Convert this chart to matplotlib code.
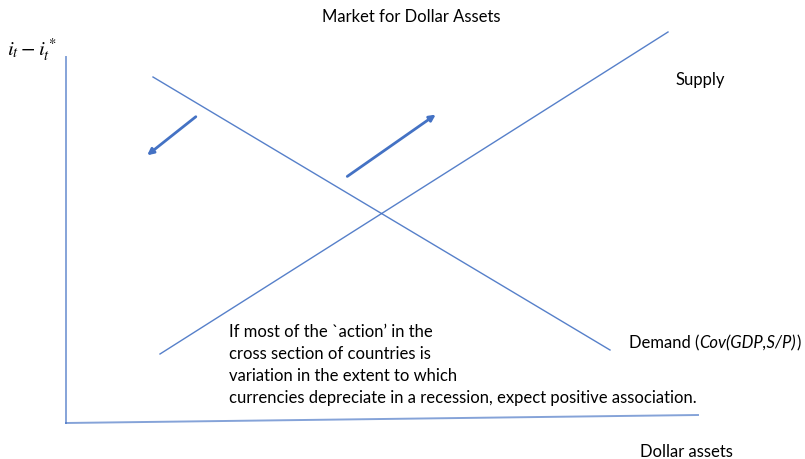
import matplotlib.pyplot as plt
from matplotlib.patches import FancyArrowPatch

# picture coordinates (pixels, y down)
axis_y = [(66, 58), (66, 424)]
axis_x = [(66, 424), (698, 416)]
demand = [(153, 78), (610, 351)]
supply = [(160, 355), (668, 33)]
arrow_left = [(198, 116), (145, 158)]
arrow_right = [(345, 179), (438, 114)]

note_lines = [
    "If most of the `action\u2019 in the",
    "cross section of countries is",
    "variation in the extent to which",
    "currencies depreciate in a recession, expect positive association.",
]

blue = "#4472C4"
plt.rcParams['font.family'] = ['Lato', 'DejaVu Sans']
plt.rcParams['mathtext.fontset'] = 'stix'

fig = plt.figure(figsize=(8.05, 4.6), dpi=100)
ax = fig.add_axes([0, 0, 1, 1])
ax.set_xlim(0, 805)
ax.set_ylim(460, 0)
ax.axis('off')

for seg in [axis_y, axis_x, demand, supply]:
    xs = [p[0] for p in seg]
    ys = [p[1] for p in seg]
    if seg in (demand, supply):
        ax.plot(xs, ys, color=blue, lw=1.0, alpha=0.9)
    else:
        ax.plot(xs, ys, color=blue, lw=1.4, alpha=0.65)

for a in [arrow_left, arrow_right]:
    ax.add_patch(FancyArrowPatch(a[0], a[1], arrowstyle='-|>', mutation_scale=9,
                                 color=blue, lw=2))

fs = 12
ax.text(411, 17, "Market for Dollar Assets", ha='center', va='center', fontsize=fs)
ax.text(32, 50, r"$i_t - i_t^*$", ha='center', va='center', fontsize=15)
ax.text(700, 80, "Supply", ha='center', va='center', fontsize=fs)
ax.text(686, 452, "Dollar assets", ha='center', va='center', fontsize=fs)

t1 = ax.text(629, 343, "Demand (", ha='left', va='center', fontsize=fs)
t2 = ax.annotate("Cov(GDP,S/P)", xy=(1, 0.5), xycoords=t1, ha='left', va='center',
                 fontsize=fs, fontstyle='italic')
ax.annotate(")", xy=(1, 0.5), xycoords=t2, ha='left', va='center', fontsize=fs)

for i, line in enumerate(note_lines):
    ax.text(229, 332 + i * 22, line, ha='left', va='center', fontsize=fs)

fig.savefig("out.png", dpi=100)
